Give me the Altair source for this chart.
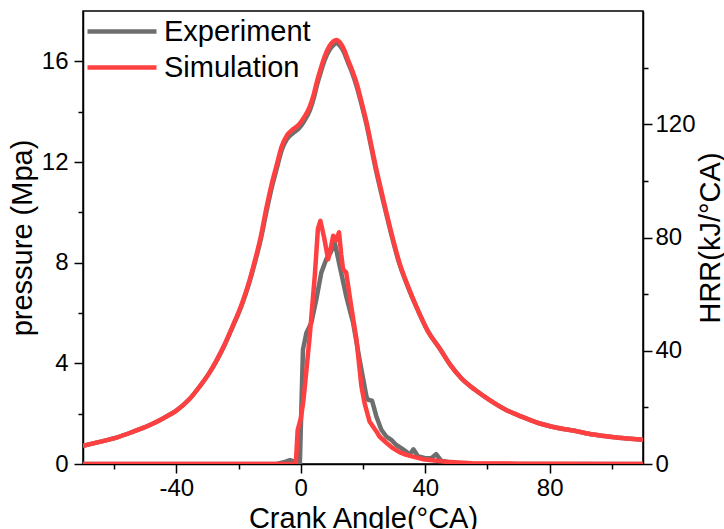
import altair as alt
import pandas as pd

# ---- cylinder pressure (MPa) vs crank angle (deg CA) ----
angle_p = [-70, -65, -59, -54, -48.5, -44, -40, -36, -32.5, -29.5, -27, -24.5, -22, -19,
           -16.4, -14.5, -13, -11, -9.4, -7.8, -6.2, -4.5, -2.5, -0.5, 1.2, 2.9, 4.2, 5.2,
           6.5, 7.7, 9.2, 10.5, 11.5, 12.6, 13.8, 15.2, 16.5, 17.9, 19.5, 21.1, 22.7, 24.3,
           26, 27.5, 29.5, 31.7, 34.5, 37.1, 40.9, 44.6, 48, 51.6, 56, 60.6, 66, 71, 76.6,
           82, 88, 94, 100, 105, 110]
pressure_sim = [0.72, 0.87, 1.06, 1.28, 1.55, 1.83, 2.12, 2.55, 3.08, 3.6, 4.14, 4.75, 5.45, 6.35,
                7.33, 8.2, 8.95, 10.2, 11.1, 11.85, 12.6, 13.05, 13.3, 13.5, 13.8, 14.2, 14.7, 15.2,
                15.75, 16.2, 16.6, 16.8, 16.85, 16.75, 16.5, 16.05, 15.65, 15.15, 14.4, 13.6, 12.65, 11.7,
                10.8, 10.0, 9.0, 8.0, 7.05, 6.27, 5.27, 4.6, 3.95, 3.41, 2.95, 2.55, 2.15, 1.88, 1.62,
                1.45, 1.32, 1.17, 1.07, 1.01, 0.96]
pressure_exp = [0.72, 0.87, 1.06, 1.28, 1.55, 1.83, 2.12, 2.55, 3.08, 3.6, 4.12, 4.72, 5.42, 6.3,
                7.27, 8.12, 8.85, 10.05, 10.95, 11.7, 12.45, 12.9, 13.15, 13.35, 13.65, 14.05, 14.55, 15.05,
                15.6, 16.05, 16.45, 16.65, 16.72, 16.62, 16.38, 15.95, 15.55, 15.03, 14.3, 13.5, 12.55, 11.6,
                10.7, 9.92, 8.93, 7.95, 7.02, 6.25, 5.26, 4.6, 3.95, 3.41, 2.95, 2.55, 2.15, 1.88, 1.62,
                1.45, 1.32, 1.17, 1.07, 1.01, 0.96]

# ---- heat release rate (kJ/deg CA) ----
angle_h_sim = [-70, -2, -1.6, -1.0, 0.0, 0.8, 1.3, 2.9, 4.5, 5.5, 6.3, 7.5, 8.8, 9.6, 10.4, 11.3,
               12.3, 13.0, 13.6, 14.6, 16.2, 17.9, 19.5, 20.5, 22.1, 24.3, 25.3, 27.5, 29.6, 31.7,
               33.9, 39.2, 46.7, 55, 70, 110]
hrr_sim = [0, 0, 0, 12, 16, 22, 27.4, 45.5, 66.4, 83, 85.9, 80, 72.3, 76, 80.6, 79,
           81.8, 74, 68.8, 67.6, 55.8, 44, 27.4, 21.5, 15, 11.5, 9.7, 7.5, 5.6, 4.2,
           3.2, 1.7, 0.8, 0.3, 0.1, 0]

angle_h_exp = [-70, -7.8, -5.5, -3.5, -2.5, -1.4, -0.3, 0.7, 1.8, 3.4, 5.0, 6.6, 8.2, 9.5, 10.9,
               12.5, 14.6, 16.8, 18.9, 21.1, 21.6, 22.9, 24.3, 25.9, 27.5, 29.1, 30.7, 32.3, 33.9,
               34.9, 36.2, 37.6, 40.3, 41.9, 43.5, 45.1, 47.8, 52, 110]
hrr_exp = [0, 0, 0.6, 1.4, 1.0, 0, 0, 40.4, 46.3, 49.9, 58.2, 67.6, 72.3, 74.5, 78.3,
           70, 59.3, 49.9, 36.9, 23.9, 22.7, 22.4, 16.8, 12.1, 9.7, 8.5, 6.7, 5.6, 4.4,
           3.2, 5.2, 2.8, 2.0, 2.0, 3.5, 1.2, 0.6, 0, 0]

series_names = ["Experiment", "Simulation"]
series_colors = ["#6e6e6e", "#ff4040"]

x_tick_values = [-60, -40, -20, 0, 20, 40, 60, 80, 100]
p_tick_values = [0, 2, 4, 6, 8, 10, 12, 14, 16]
h_tick_values = [0, 20, 40, 60, 80, 100, 120, 140]

p_df = pd.concat([
    pd.DataFrame({"angle": angle_p, "value": pressure_exp, "series": "Experiment"}),
    pd.DataFrame({"angle": angle_p, "value": pressure_sim, "series": "Simulation"}),
])
h_df = pd.concat([
    pd.DataFrame({"angle": angle_h_exp, "value": hrr_exp, "series": "Experiment"}),
    pd.DataFrame({"angle": angle_h_sim, "value": hrr_sim, "series": "Simulation"}),
])

FONT = "Liberation Sans"
LINE_W = 4.5

x_enc = alt.X(
    "angle:Q",
    scale=alt.Scale(domain=[-70, 110], nice=False, zero=False),
    axis=alt.Axis(
        values=x_tick_values,
        labelExpr="datum.value % 40 === 0 ? '' + datum.value : ''",
        tickSize={"condition": {"test": "datum.value % 40 === 0", "value": 9}, "value": 5},
        title="Crank Angle(°CA)",
        labelPadding=3,
        titlePadding=4,
    ),
)

# long horizontal line sample in the legend (small symbol box keeps rows compact)
color_enc = alt.Color(
    "series:N",
    scale=alt.Scale(domain=series_names, range=series_colors),
    legend=alt.Legend(
        title=None,
        orient="none",
        legendX=2,
        legendY=6,
        symbolType="M-1.2,0H5.7",
        symbolSize=400,
        symbolStrokeWidth=LINE_W,
        symbolFillColor="transparent",
        labelOffset=50,
        rowPadding=6,
        labelFontSize=29,
    ),
)

pressure = alt.Chart(p_df).mark_line(strokeWidth=LINE_W, interpolate="monotone", clip=True).encode(
    x=x_enc,
    y=alt.Y(
        "value:Q",
        scale=alt.Scale(domain=[0, 18], nice=False),
        axis=alt.Axis(
            orient="left",
            values=p_tick_values,
            labelExpr="datum.value % 4 === 0 ? datum.label : ''",
            tickSize={"condition": {"test": "datum.value % 4 === 0", "value": 9}, "value": 5},
            title="pressure (Mpa)",
            labelPadding=6,
            titlePadding=4,
        ),
    ),
    color=color_enc,
    detail="series:N",
)

hrr = alt.Chart(h_df).mark_line(strokeWidth=LINE_W, strokeJoin="round", clip=True).encode(
    x=x_enc,
    y=alt.Y(
        "value:Q",
        scale=alt.Scale(domain=[0, 160], nice=False),
        axis=alt.Axis(
            orient="right",
            values=h_tick_values,
            labelExpr="datum.value % 40 === 0 ? datum.label : ''",
            tickSize={"condition": {"test": "datum.value % 40 === 0", "value": 9}, "value": 5},
            title="HRR(kJ/°CA)",
            titleAngle=270,
            labelPadding=3,
            titlePadding=30,
        ),
    ),
    color=color_enc,
    detail="series:N",
)

chart = (
    alt.layer(pressure, hrr)
    .resolve_scale(y="independent")
    .properties(
        width=560,
        height=453,
        autosize=alt.AutoSizeParams(type="none"),
        padding={"left": 83, "top": 11, "right": 81, "bottom": 65},
    )
    .configure_view(stroke="black", strokeWidth=1.5)
    .configure_axis(
        labelFont=FONT,
        titleFont=FONT,
        labelFontSize=24,
        titleFontSize=29,
        titleFontWeight="normal",
        labelColor="black",
        titleColor="black",
        domainColor="black",
        tickColor="black",
        domainWidth=1.5,
        tickWidth=1.5,
        grid=False,
    )
    .configure_legend(labelFont=FONT, labelColor="black")
)

chart.save("out.html", embed_options={"renderer": "svg", "actions": False})
